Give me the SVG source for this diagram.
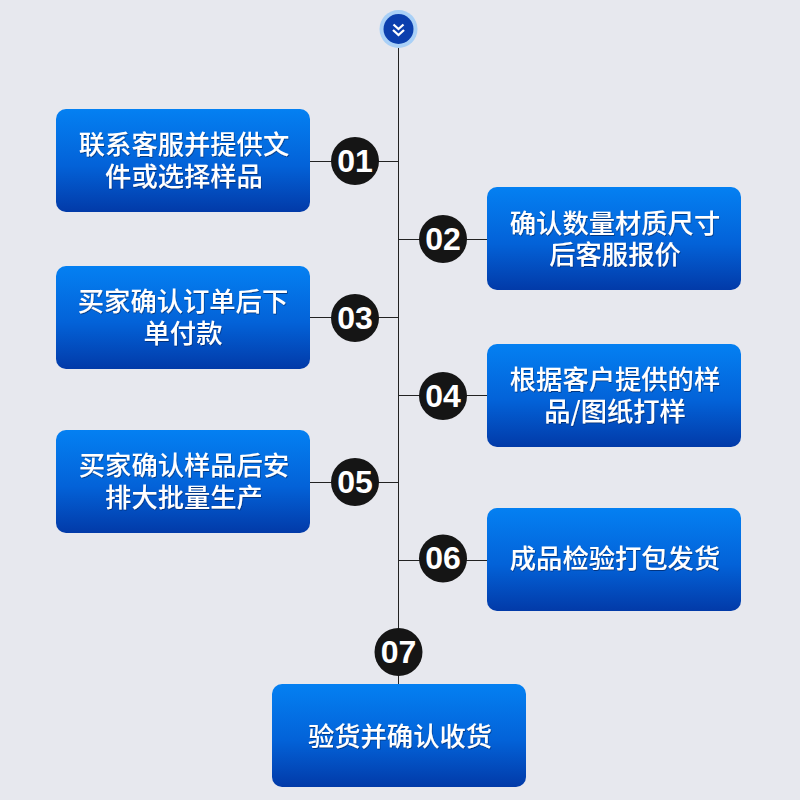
<svg xmlns="http://www.w3.org/2000/svg" width="800" height="800" viewBox="0 0 800 800">
<style>
.box{fill:url(#g)}
.t{font-family:"Noto Sans CJK SC","Liberation Sans",sans-serif;font-size:26.3px;font-weight:500;fill:#fff;text-anchor:middle;filter:url(#s)}
.n{font-family:"Liberation Sans",Arial,sans-serif;font-size:32px;font-weight:bold;fill:#fff;text-anchor:middle}
.c{fill:#151515}
.l{stroke:#222;stroke-width:1;fill:none}
</style>
<defs>
<linearGradient id="g" x1="0" y1="0" x2="0" y2="1"><stop offset="0" stop-color="#0480f2"/><stop offset="0.55" stop-color="#0362d8"/><stop offset="1" stop-color="#023aa8"/></linearGradient>
<filter id="s" x="-5%" y="-10%" width="110%" height="125%"><feDropShadow dx="0.6" dy="1" stdDeviation="0.5" flood-color="#02205f" flood-opacity="0.7"/></filter>
</defs>
<rect width="800" height="800" fill="#e7e8ee"/>
<g id="connectors" class="l">
<path d="M398.500 40V684"/>
<path d="M310 161.500H398.500"/>
<path d="M398.500 239.500H487"/>
<path d="M310 317.500H398.500"/>
<path d="M398.500 395.500H487"/>
<path d="M310 482.500H398.500"/>
<path d="M398.500 560.500H487"/>
</g>
<g id="start">
<circle cx="398.500" cy="29" r="19" fill="#a9d0f7"/>
<circle cx="398.500" cy="29" r="15" fill="#0b3fae"/>
<path d="M393.500 24.500L398.500 29L403.500 24.500M393 30L398.500 35L404 30" fill="none" stroke="#fff" stroke-width="2.300"/>
</g>
<g id="step01"><rect class="box" x="56" y="109" width="254" height="103" rx="10"/><text class="t" x="184" y="154">联系客服并提供文<tspan x="184" y="186">件或选择样品</tspan></text><circle class="c" cx="355" cy="161" r="24"/><text class="n" x="355" y="171.500">01</text></g>
<g id="step02"><rect class="box" x="487" y="187" width="254" height="103" rx="10"/><text class="t" x="615" y="233">确认数量材质尺寸<tspan x="615" y="264">后客服报价</tspan></text><circle class="c" cx="443" cy="239" r="24"/><text class="n" x="443" y="249.500">02</text></g>
<g id="step03"><rect class="box" x="56" y="266" width="254" height="103" rx="10"/><text class="t" x="183" y="311">买家确认订单后下<tspan x="183" y="343">单付款</tspan></text><circle class="c" cx="355" cy="318" r="24"/><text class="n" x="355" y="328.500">03</text></g>
<g id="step04"><rect class="box" x="487" y="344" width="254" height="103" rx="10"/><text class="t" x="615" y="389">根据客户提供的样<tspan x="615" y="421">品/图纸打样</tspan></text><circle class="c" cx="443" cy="396" r="24"/><text class="n" x="443" y="406.500">04</text></g>
<g id="step05"><rect class="box" x="56" y="430" width="254" height="103" rx="10"/><text class="t" x="184" y="475">买家确认样品后安<tspan x="184" y="507">排大批量生产</tspan></text><circle class="c" cx="355" cy="482" r="24"/><text class="n" x="355" y="492.500">05</text></g>
<g id="step06"><rect class="box" x="487" y="508" width="254" height="103" rx="10"/><text class="t" x="615" y="568">成品检验打包发货</text><circle class="c" cx="443" cy="558.500" r="24"/><text class="n" x="443" y="569">06</text></g>
<g id="step07"><rect class="box" x="272" y="684" width="254" height="103" rx="10"/><text class="t" x="400" y="746">验货并确认收货</text><circle class="c" cx="398.500" cy="652" r="24"/><text class="n" x="398.500" y="662.500">07</text></g>
</svg>
